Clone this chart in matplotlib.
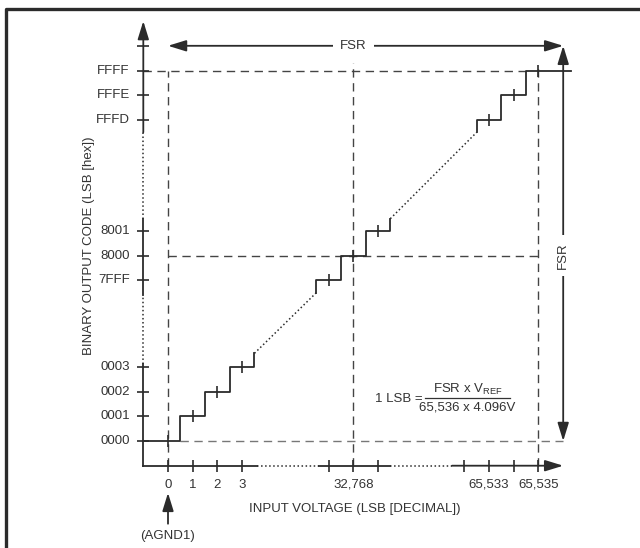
import matplotlib
matplotlib.use("Agg")
import matplotlib.pyplot as plt

plt.rcParams['font.family'] = ['Liberation Sans', 'DejaVu Sans']
plt.rcParams['mathtext.default'] = 'regular'

# schematic positions, in LSB steps
x_ticks = [0, 1, 2, 3, 6.5, 7.5, 8.5, 12, 13, 14, 15]
x_label_pos = [0, 1, 2, 3, 7.5, 13, 15]
x_labels = ['0', '1', '2', '3', '32,768', '65,533', '65,535']
y_ticks = [0, 1, 2, 3, 6.5, 7.5, 8.5, 13, 14, 15, 16]
y_label_pos = [0, 1, 2, 3, 6.5, 7.5, 8.5, 13, 14, 15]
y_labels = ['0000', '0001', '0002', '0003', '7FFF', '8000', '8001', 'FFFD', 'FFFE', 'FFFF']

# transfer function (solid parts and dotted gaps)
stair1_x = [-1, 0.5, 0.5, 1.5, 1.5, 2.5, 2.5, 3.5, 3.5]
stair1_y = [0, 0, 1, 1, 2, 2, 3, 3, 3.55]
stair2_x = [6, 6, 7, 7, 8, 8, 9, 9]
stair2_y = [6, 6.5, 6.5, 7.5, 7.5, 8.5, 8.5, 9]
stair3_x = [12.5, 12.5, 13.5, 13.5, 14.5, 14.5, 16.3]
stair3_y = [12.5, 13, 13, 14, 14, 15, 15]
gap1_x, gap1_y = [3.5, 6], [3.55, 6]
gap2_x, gap2_y = [9, 12.5], [9, 12.5]
mid_x = [0, 1, 2, 3, 6.5, 7.5, 8.5, 13, 14, 15]
mid_y = [0, 1, 2, 3, 6.5, 7.5, 8.5, 13, 14, 15]

C = '#2b2b2b'
TC = '#333333'
FS = 9.5
S = 24.7  # pixels per step
ARROW = '-|>,head_length=0.55,head_width=0.17'
ARROW2 = '<|-|>,head_length=0.55,head_width=0.17'

fig = plt.figure(figsize=(6.4, 5.48), dpi=100)
ax = fig.add_axes([0, 0, 1, 1])
ax.set_xlim(-168 / S, (640 - 168) / S)
ax.set_ylim((441 - 548) / S, 441 / S)
ax.axis('off')

# frame (cut off at right/bottom)
ax.plot([6 / 640, 6 / 640, 1], [0, 1 - 9 / 548, 1 - 9 / 548], transform=ax.transAxes,
        color=C, lw=2.4, clip_on=False, solid_capstyle='projecting')

# dashed guides
dk = dict(color='#444444', lw=1.0, dashes=(6, 4))
ax.plot([-1, 14.5], [15, 15], **dk)
ax.plot([0, 15], [7.5, 7.5], **dk)
ax.plot([0.5, 16], [0, 0], color='#777777', lw=1.0, dashes=(6, 4))
ax.plot([0, 0], [-1, 15], **dk)
ax.plot([7.5, 7.5], [-1, 15.3], **dk)
ax.plot([15, 15], [-1, 15.2], **dk)

# axes
ax.plot([-1, 3.6], [-1, -1], color=C, lw=1.3)
ax.plot([3.6, 6.1], [-1, -1], color=C, lw=1.1, ls=':')
ax.plot([6.1, 9.0], [-1, -1], color=C, lw=1.3)
ax.plot([9.0, 11.5], [-1, -1], color=C, lw=1.1, ls=':')
ax.annotate('', xy=(16, -1), xytext=(11.5, -1),
            arrowprops=dict(arrowstyle=ARROW, color=C, lw=1.3, mutation_scale=20,
                            shrinkA=0, shrinkB=0))
ax.plot([-1, -1], [-1, 3.1], color=C, lw=1.3)
ax.plot([-1, -1], [3.1, 5.9], color=C, lw=1.1, ls=':')
ax.plot([-1, -1], [5.9, 9.0], color=C, lw=1.3)
ax.plot([-1, -1], [9.0, 12.5], color=C, lw=1.1, ls=':')
ax.annotate('', xy=(-1, 17), xytext=(-1, 12.5),
            arrowprops=dict(arrowstyle=ARROW, color=C, lw=1.3, mutation_scale=20,
                            shrinkA=0, shrinkB=0))

ax.plot(x_ticks, [-1] * len(x_ticks), ls='none', marker='|', ms=8, mew=1.2, color=C)
ax.plot([-1] * len(y_ticks), y_ticks, ls='none', marker='_', ms=8, mew=1.2, color=C)

# staircase
ax.plot(stair1_x, stair1_y, color=C, lw=1.3)
ax.plot(stair2_x, stair2_y, color=C, lw=1.3)
ax.plot(stair3_x, stair3_y, color=C, lw=1.3)
ax.plot(gap1_x, gap1_y, color=C, lw=1.1, ls=':')
ax.plot(gap2_x, gap2_y, color=C, lw=1.1, ls=':')
ax.plot(mid_x, mid_y, ls='none', marker='|', ms=8, mew=1.2, color=C)

# FSR arrows
ax.annotate('', xy=(0, 16), xytext=(16, 16),
            arrowprops=dict(arrowstyle=ARROW2, color=C, lw=1.3, mutation_scale=20,
                            shrinkA=0, shrinkB=0))
ax.text(7.5, 16, 'FSR', ha='center', va='center', fontsize=FS, color=TC,
        bbox=dict(facecolor='white', edgecolor='none', pad=5))
ax.annotate('', xy=(16, 0), xytext=(16, 16),
            arrowprops=dict(arrowstyle=ARROW2, color=C, lw=1.3, mutation_scale=20,
                            shrinkA=0, shrinkB=0))
ax.text(16, 7.5, 'FSR', ha='center', va='center', fontsize=FS, color=TC, rotation=90,
        bbox=dict(facecolor='white', edgecolor='none', pad=5))

# tick labels
for xp, lab in zip(x_label_pos, x_labels):
    ax.text(xp, -1.78, lab, ha='center', va='center', fontsize=FS, color=TC)
for yp, lab in zip(y_label_pos, y_labels):
    ax.text(-1.55, yp, lab, ha='right', va='center', fontsize=FS, color=TC)

ax.text(7.55, -2.75, 'INPUT VOLTAGE (LSB [DECIMAL])', ha='center', va='center',
        fontsize=FS, color=TC)
ax.text(-3.2, 7.9, 'BINARY OUTPUT CODE (LSB [hex])', ha='center', va='center',
        fontsize=FS, color=TC, rotation=90)

# AGND1 marker
ax.annotate('', xy=(0, -2.1), xytext=(0, -3.35),
            arrowprops=dict(arrowstyle=ARROW, color=C, lw=1.3, mutation_scale=20,
                            shrinkA=0, shrinkB=0))
ax.text(0, -3.85, '(AGND1)', ha='center', va='center', fontsize=FS, color=TC)

# LSB formula
ax.text(10.32, 1.72, '1 LSB =', ha='right', va='center', fontsize=FS, color=TC)
ax.plot([10.4, 13.85], [1.74, 1.74], color=TC, lw=0.9)
ax.text(12.15, 2.08, r'FSR x V$_{\mathregular{REF}}$', ha='center', va='center',
        fontsize=FS, color=TC)
ax.text(12.12, 1.34, '65,536 x 4.096V', ha='center', va='center', fontsize=FS, color=TC)

fig.savefig('out.png', dpi=100)
